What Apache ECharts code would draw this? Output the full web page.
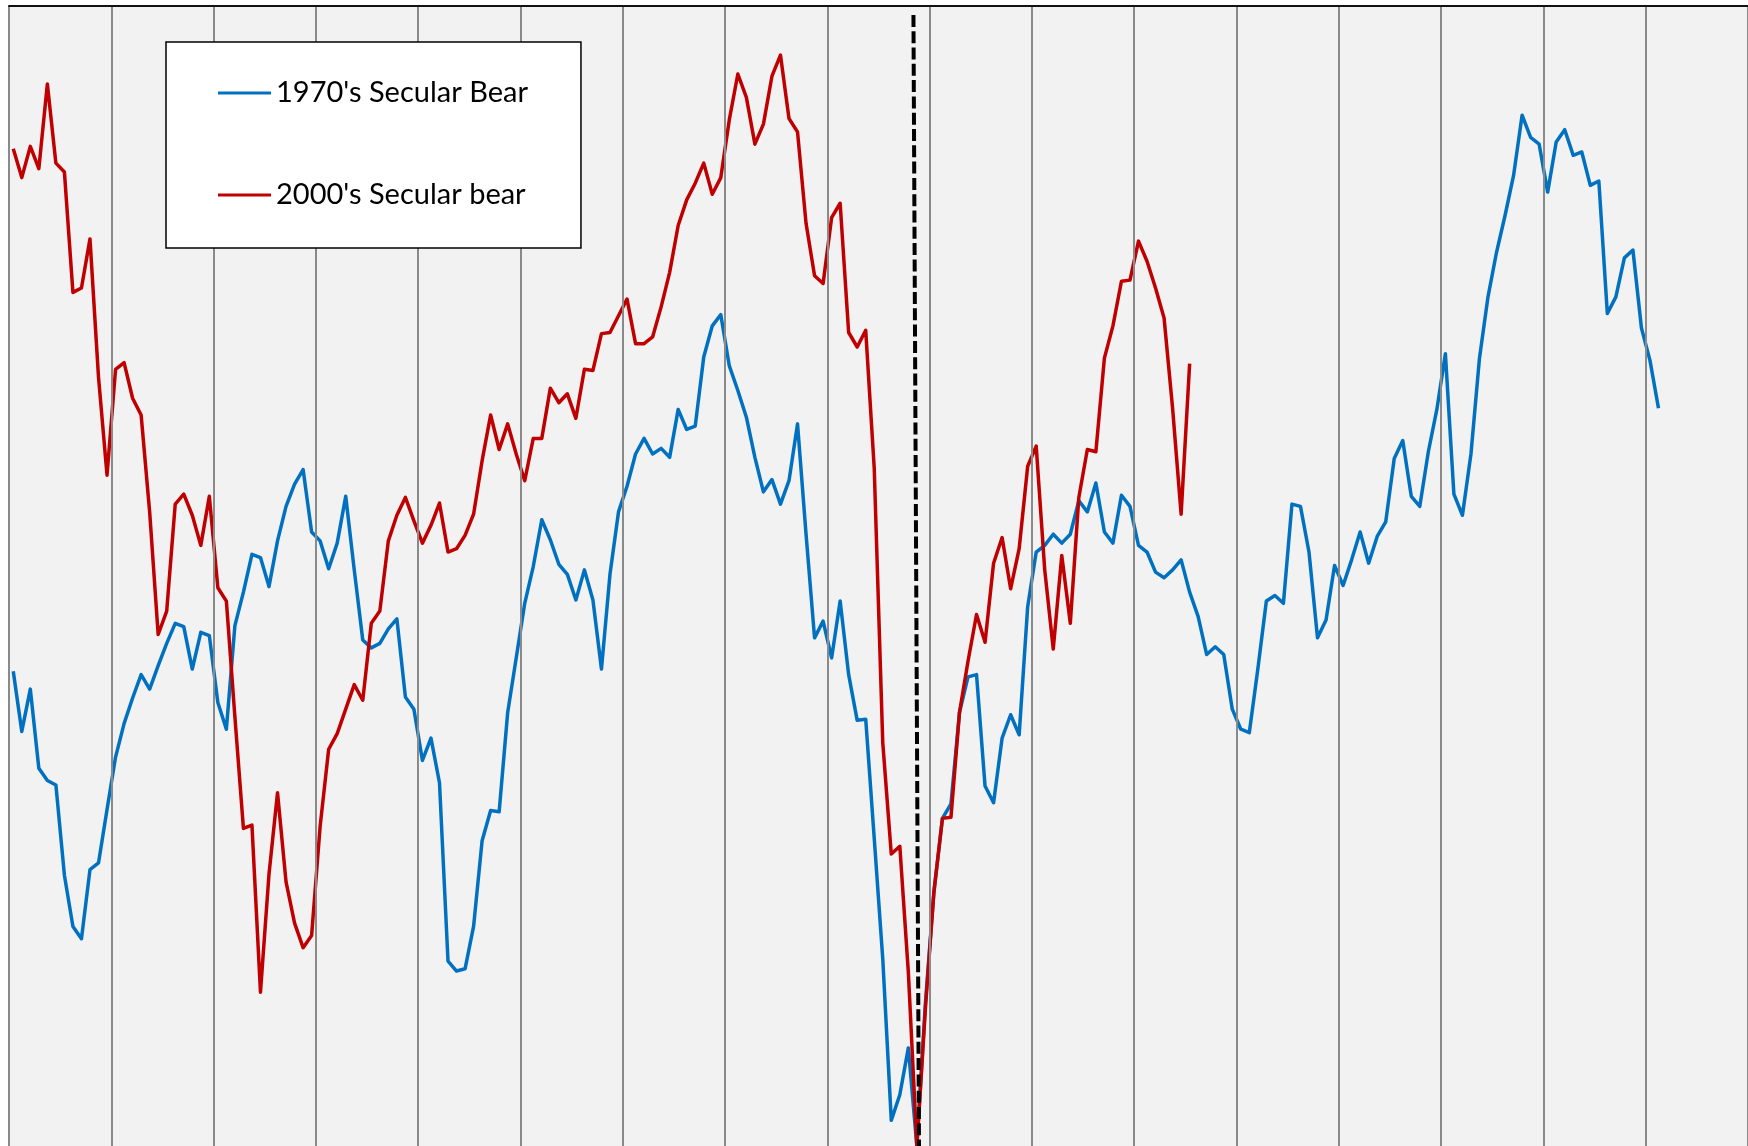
<!DOCTYPE html>
<html>
<head>
<meta charset="utf-8">
<script src="https://cdn.jsdelivr.net/npm/echarts@6/dist/echarts.min.js"></script>
<style>
html,body{margin:0;padding:0;background:#ffffff;}
#chart{width:1748px;height:1146px;}
</style>
</head>
<body>
<div id="chart"></div>
<script>
// Month index along the horizontal axis (17 years x 12 months); vertical grid line every 12 months
const monthCount = 204;
const months = Array.from({length: monthCount}, (_, i) => String(i + 1));

const seriesNames = ["1970's Secular Bear", "2000's Secular bear"];

// Relative index level (arbitrary units), aligned so both lows fall at month 107
const bear1970s = [
  426,372,410,339,328,324,243,197,186,248,254,302,
  349,379,402,423,410,431,451,469,466,428,461,458,
  398,374,467,497,531,528,502,543,574,594,607,551,
  543,518,541,583,517,454,447,451,464,473,403,392,
  346,366,326,166,157,159,197,274,301,300,389,438,
  487,520,562,544,522,513,490,517,490,428,513,569,
  592,621,635,621,626,618,661,643,646,708,736,746,
  700,678,654,618,587,598,576,597,648,549,456,471,
  438,489,423,382,383,276,168,23,46,88,0,128,
  228,294,307,389,421,423,323,308,366,387,369,484,
  533,539,549,541,549,579,569,595,551,541,584,574,
  539,533,515,510,517,526,497,475,441,448,441,392,
  374,371,428,489,494,487,576,574,533,456,472,521,
  503,526,551,523,547,560,617,633,583,574,623,661,
  711,585,566,621,707,762,802,835,871,925,905,899,
  856,901,912,889,892,862,866,747,762,797,804,734,
  705,662
];

const bear2000s = [
  895,869,897,877,953,882,874,766,770,814,690,602,
  697,703,671,656,569,459,480,576,585,566,539,583,
  501,489,385,285,288,138,244,317,237,200,178,189,
  287,356,370,392,414,400,469,480,543,566,582,561,
  541,557,577,533,536,548,567,615,656,625,648,621,
  597,635,635,680,667,675,653,697,696,729,730,745,
  760,720,720,726,753,784,826,849,864,882,854,869,
  921,962,941,899,917,960,979,922,910,828,781,774,
  833,846,730,717,732,608,362,262,269,156,0,123,
  228,294,295,389,435,477,452,523,546,500,536,610,
  628,517,446,530,469,582,625,623,707,736,776,777,
  812,794,770,743,662,567,702
];

// Dashed marker at the common low (month position, level)
const lowMarkerX = [105.6, 106.25];
const lowMarkerY = [1015, 0];

const chart = echarts.init(document.getElementById('chart'), null, {renderer: 'canvas'});

const option = {
  animation: false,
  backgroundColor: '#ffffff',
  grid: {
    left: 9, right: 0, top: 6, bottom: 0,
    show: true, backgroundColor: '#f2f2f2', borderWidth: 0
  },
  legend: {
    data: seriesNames,
    orient: 'vertical',
    left: 166, top: 42,
    z: 20,
    backgroundColor: '#ffffff',
    borderColor: '#000000',
    borderWidth: 1.5,
    borderRadius: 0,
    padding: [36, 53, 38, 52],
    itemGap: 72,
    itemWidth: 53,
    itemHeight: 3,
    icon: 'rect',
    textStyle: {fontFamily: 'Lato', fontSize: 29, color: '#000000', lineHeight: 30}
  },
  xAxis: [
    {
      type: 'category',
      data: months,
      position: 'top',
      boundaryGap: true,
      axisLine: {show: true, onZero: false, lineStyle: {color: '#111111', width: 2}},
      axisTick: {show: false},
      axisLabel: {show: false},
      splitLine: {show: true, interval: 11, lineStyle: {color: '#8a8a8a', width: 2}},
      z: 5
    },
    {
      type: 'value',
      min: -0.5, max: monthCount - 0.5,
      show: false,
      splitLine: {show: false}
    }
  ],
  yAxis: {
    type: 'value',
    min: 0, max: 1023,
    show: false,
    splitLine: {show: false}
  },
  series: [
    {
      name: seriesNames[0],
      type: 'line',
      data: bear1970s,
      xAxisIndex: 0,
      symbol: 'none',
      lineStyle: {color: '#0070c0', width: 3.5, join: 'round'},
      itemStyle: {color: '#0070c0'},
      z: 2
    },
    {
      name: seriesNames[1],
      type: 'line',
      data: bear2000s,
      xAxisIndex: 0,
      symbol: 'none',
      lineStyle: {color: '#c00000', width: 3.5, join: 'round'},
      itemStyle: {color: '#c00000'},
      z: 3
    },
    {
      name: 'low',
      type: 'line',
      xAxisIndex: 1,
      data: lowMarkerX.map((x, i) => [x, lowMarkerY[i]]),
      symbol: 'none',
      lineStyle: {color: '#000000', width: 4, type: [12, 4.3]},
      z: 4,
      silent: true
    }
  ]
};

chart.setOption(option);
</script>
</body>
</html>
